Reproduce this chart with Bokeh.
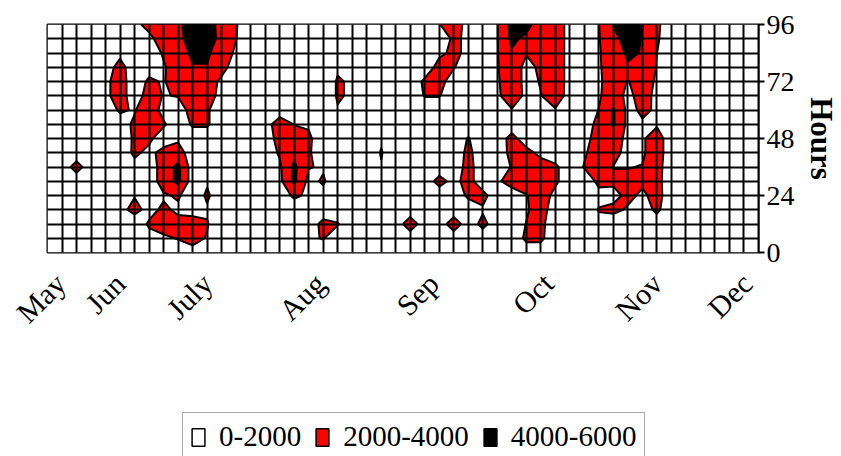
import numpy as np
from math import pi
from bokeh.plotting import figure
from bokeh.layouts import column, row
from bokeh.models import FixedTicker, Legend, LegendItem, Spacer
from bokeh.embed import file_html
from bokeh.resources import INLINE

# ---------------- data ----------------
# grid columns (vertex index along the time axis) and hours of day (rows)
cols = list(range(50))
hours = list(range(0, 97, 6))
background = 1000

# month labels on the category axis and their column positions
months = ["May", "Jun", "July", "Aug", "Sep", "Oct", "Nov", "Dec"]
month_pos = [0.9, 5.0, 11.0, 18.8, 26.6, 34.5, 42.0, 48.2]

# contour levels and legend
levels = [0, 2000, 4000, 6000]
level_labels = ["0-2000", "2000-4000", "4000-6000"]
level_colors = ["white", "red", "black"]

# values above the background, per hour row (row index -> {column: value})
row16 = {6: 1500, 7: 2600, 8: 3000, 9: 3600, 10: 5000, 11: 5000, 12: 3200, 13: 2100,
         27: 1950, 28: 2700, 29: 1500, 31: 1900, 32: 4600, 33: 4600, 34: 3000, 35: 2800, 36: 1500,
         38: 1950, 39: 4100, 40: 5000, 41: 4050, 42: 2300}
row15 = {7: 1500, 8: 3000, 9: 3500, 10: 4800, 11: 4800, 12: 3500, 13: 2020,
         28: 2300, 29: 1700, 31: 1900, 32: 4400, 33: 3600, 34: 2900, 35: 2800, 36: 1500,
         38: 1900, 39: 3400, 40: 4800, 41: 3900, 42: 2200}
row14 = {5: 1600, 8: 2200, 9: 3200, 10: 4300, 11: 4300, 12: 3000, 13: 1700, 24: 2050,
         27: 1700, 28: 2300, 29: 1700, 31: 1900, 32: 3800, 33: 2100, 34: 2800, 35: 2800, 36: 1500,
         38: 1850, 39: 3000, 40: 4300, 41: 3900, 42: 2010}
row13 = {4: 1200, 5: 2600, 7: 1300, 8: 1800, 9: 3000, 10: 3900, 11: 3900, 12: 2700, 20: 1800,
         27: 2600, 28: 2100, 31: 1900, 32: 3000, 33: 1500, 34: 2300, 35: 2800, 36: 1500,
         38: 1800, 39: 3000, 40: 3800, 41: 3600, 42: 1900}
row12 = {4: 1600, 5: 2800, 7: 2300, 8: 1850, 9: 3000, 10: 3400, 11: 3000, 12: 1600, 20: 2150, 21: 1800,
         26: 2300, 27: 2500, 28: 1300, 31: 1800, 32: 3000, 33: 1500, 34: 2100, 35: 2800, 36: 1500,
         38: 1700, 39: 3000, 40: 1900, 41: 3000, 42: 1700}
row11 = {4: 1600, 5: 2800, 7: 2800, 8: 1900, 9: 2100, 10: 3000, 11: 2800, 12: 1400, 20: 2150, 21: 1800,
         26: 2100, 27: 2100, 31: 1700, 32: 3000, 33: 1600, 34: 1950, 35: 2700, 36: 1500,
         38: 1800, 39: 3000, 40: 1500, 41: 2800, 42: 1500}
row10 = {4: 1400, 5: 2150, 6: 1900, 7: 2900, 8: 1500, 10: 2800, 11: 2200, 16: 1400, 20: 1900,
         32: 1900, 35: 1900, 38: 2050, 39: 4200, 40: 1500, 41: 2300, 42: 1800}
row9 = {5: 1500, 6: 2200, 7: 2900, 8: 2200, 10: 2200, 11: 2200, 15: 1500, 16: 2600, 17: 1950, 18: 1800,
        37: 1200, 38: 2500, 39: 4200, 40: 1500, 41: 1800, 42: 1800}
row8 = {5: 1200, 6: 2200, 7: 2300, 8: 1200, 9: 1700, 10: 1200, 11: 1200, 15: 1400, 16: 2400, 17: 2800,
        18: 2300, 23: 1800, 29: 2100, 32: 2600, 37: 1400, 38: 2800, 39: 2900, 40: 1500, 41: 1800, 42: 2800}
row7 = {6: 2300, 7: 1600, 8: 2500, 9: 2800, 16: 2200, 17: 3600, 18: 2200, 23: 2100, 29: 2400,
        32: 2500, 33: 2600, 34: 1500, 37: 1800, 38: 2900, 39: 2700, 40: 1300, 41: 1800, 42: 2800}
row6 = {2: 2700, 6: 1500, 8: 2800, 9: 4500, 16: 1700, 17: 4400, 18: 2100, 19: 1800, 23: 1900, 29: 2600,
        32: 2100, 33: 3200, 34: 2900, 35: 2300, 37: 2100, 38: 2700, 39: 1950, 40: 1950, 41: 2050, 42: 2600}
row5 = {8: 2800, 9: 4500, 11: 1800, 16: 1500, 17: 4400, 18: 1500, 19: 2200, 27: 2600, 28: 1500, 29: 2600,
        31: 1700, 32: 2800, 33: 3200, 34: 3000, 35: 2300, 38: 2400, 39: 2300, 40: 2300,
        41: 2300, 42: 2500}
row4 = {6: 1900, 8: 1800, 9: 2200, 11: 2250, 17: 2300, 18: 1700, 19: 1500, 29: 2300, 30: 2500,
        33: 1900, 34: 2900, 35: 1500, 38: 1500, 39: 1500, 40: 2400, 41: 1700, 42: 2600}
row3 = {5: 1500, 6: 2500, 7: 1500, 8: 2300, 9: 1700, 10: 1500, 11: 1800, 23: 2030, 30: 1800,
        33: 1800, 34: 2800, 38: 2100, 39: 2400, 40: 1800, 41: 1300, 42: 2300}
row2 = {7: 2200, 8: 2800, 9: 2500, 10: 2600, 11: 2100, 19: 2500, 20: 2100, 25: 3000, 28: 3000,
        30: 2500, 33: 2050, 34: 2400, 38: 1500, 42: 1200}
row1 = {7: 1500, 8: 1700, 9: 2100, 10: 2500, 11: 1900, 18: 1700, 19: 2100, 33: 2300, 34: 2300, 42: 2030}
row0 = {10: 1500, 33: 1200, 34: 1200}

rows = [row0, row1, row2, row3, row4, row5, row6, row7, row8, row9,
        row10, row11, row12, row13, row14, row15, row16]

z = np.full((len(hours), len(cols)), float(background))
for r, d in enumerate(rows):
    for c, v in d.items():
        z[r, c] = v

FONT = "Liberation Serif"

# ---------------- main figure ----------------
p = figure(width=841, height=411, x_range=(cols[0], cols[-1]), y_range=(hours[0], hours[-1]),
           y_axis_location="right", output_backend="svg", toolbar_location=None,
           min_border_left=47, min_border_right=78, min_border_top=24, min_border_bottom=159)
p.outline_line_color = "black"
p.outline_line_width = 2
p.background_fill_color = "white"
p.border_fill_color = "white"

p.contour(x=cols, y=hours, z=z, levels=levels,
          fill_color=level_colors, line_color="black", line_width=2)

# mesh grid drawn over the filled bands
p.xgrid.ticker = FixedTicker(ticks=cols)
p.ygrid.ticker = FixedTicker(ticks=hours)
p.grid.grid_line_color = "black"
p.grid.grid_line_width = 2
p.grid.level = "overlay"

# x axis: month labels
p.xaxis.ticker = FixedTicker(ticks=month_pos)
p.xaxis.major_label_overrides = {pos: m for pos, m in zip(month_pos, months)}
p.xaxis.major_label_orientation = pi / 4
p.xaxis.axis_line_color = None
p.xaxis.major_tick_line_color = None
p.xaxis.minor_tick_line_color = None
p.xaxis.major_label_text_font = FONT
p.xaxis.major_label_text_font_size = "30px"
p.xaxis.major_label_text_color = "black"
p.xaxis.major_label_standoff = 20

# right y axis
p.yaxis.ticker = FixedTicker(ticks=[0, 24, 48, 72, 96])
p.yaxis.major_label_text_font = FONT
p.yaxis.major_label_text_font_size = "28px"
p.yaxis.major_label_text_color = "black"
p.yaxis.axis_line_color = "black"
p.yaxis.axis_line_width = 2
p.yaxis.major_tick_out = 6
p.yaxis.major_tick_in = 0
p.yaxis.major_tick_line_width = 2
p.yaxis.minor_tick_line_color = None
p.yaxis.major_label_standoff = 2
p.yaxis.axis_label = "Hours"
p.yaxis.axis_label_text_font = FONT
p.yaxis.axis_label_text_font_style = "bold"
p.yaxis.axis_label_text_font_size = "31px"
p.yaxis.axis_label_text_color = "black"
p.yaxis.axis_label_standoff = 6

# ---------------- legend (separate strip below) ----------------
lf = figure(width=470, height=45, x_range=(0, 1), y_range=(0, 1),
            x_axis_type=None, y_axis_type=None, output_backend="svg",
            toolbar_location=None, min_border=0)
lf.outline_line_color = None
lf.xgrid.visible = False
lf.ygrid.visible = False
items = []
for lab, col in zip(level_labels, level_colors):
    # swatch renderer: one square lying outside the strip's visible range
    r = lf.quad(left=[2], right=[3], bottom=[2], top=[3], fill_color=col,
                line_color="black", line_width=1.5)
    items.append(LegendItem(label=lab, renderers=[r]))
legend = Legend(items=items, orientation="horizontal", location="top_left",
                label_text_font=FONT, label_text_font_size="29px", label_text_color="black",
                glyph_width=16, glyph_height=22, label_standoff=13, spacing=13,
                padding=7, margin=1, border_line_color="#555555", border_line_width=1,
                background_fill_color="white", background_fill_alpha=1.0)
lf.add_layout(legend)

layout = column(p, row(Spacer(width=181, height=45), lf))
open("out.html", "w").write(file_html(layout, INLINE))
